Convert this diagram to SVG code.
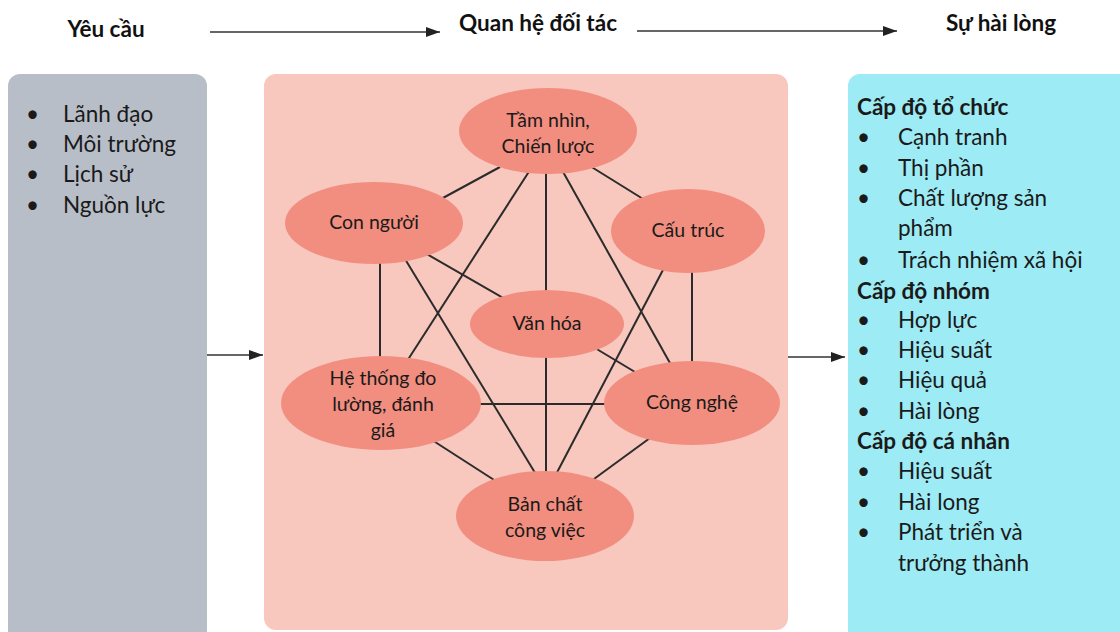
<svg xmlns="http://www.w3.org/2000/svg" width="1120" height="632" viewBox="0 0 1120 632">
  <defs>
    <marker id="arrow" viewBox="0 0 14 10" refX="14" refY="5" markerWidth="15" markerHeight="10" markerUnits="userSpaceOnUse" orient="auto">
      <path d="M0,0 L14,5 L0,10 z" fill="#222"/>
    </marker>
    <style>
      .hdr { font-family: Lato, "Noto Sans", sans-serif; font-weight: bold; font-size: 22.5px; fill: #111; }
      .flow { stroke: #333; stroke-width: 1.6; fill: none; marker-end: url(#arrow); }
      .panel-left { fill: #b8bec7; }
      .panel-mid { fill: #f8c8bf; }
      .panel-right { fill: #9debf4; }
      .node { fill: #f28e7f; }
      .ntext { font-family: Lato, "Noto Sans", sans-serif; font-size: 19.5px; fill: #1a1a1a; text-anchor: middle; }
      .edge { stroke: #2b2b2b; stroke-width: 2; }
      .list { font-family: Lato, "Noto Sans", sans-serif; font-size: 22.5px; fill: #1a1a1a; }
      .lhead { font-weight: bold; }
    </style>
  </defs>

  <rect width="1120" height="632" fill="#ffffff"/>

  <!-- stage headers -->
  <g id="headers">
    <text class="hdr" x="106" y="37" text-anchor="middle">Yêu cầu</text>
    <text class="hdr" x="538" y="31" text-anchor="middle">Quan hệ đối tác</text>
    <text class="hdr" x="1001" y="31" text-anchor="middle">Sự hài lòng</text>
  </g>

  <!-- flow arrows between stages -->
  <g id="flow-arrows">
    <line class="flow" x1="210" y1="32" x2="440" y2="32"/>
    <line class="flow" x1="637" y1="31" x2="897" y2="31"/>
    <line class="flow" x1="207" y1="355" x2="263" y2="355"/>
    <line class="flow" x1="787" y1="357" x2="845" y2="357"/>
  </g>

  <!-- requirements panel -->
  <g id="requirements">
    <rect class="panel-left" x="8" y="74" width="199" height="580" rx="12"/>
    <g class="list">
      <text x="26" y="122">•</text><text x="63" y="122">Lãnh đạo</text>
      <text x="26" y="152">•</text><text x="63" y="152">Môi trường</text>
      <text x="26" y="182">•</text><text x="63" y="182">Lịch sử</text>
      <text x="26" y="213">•</text><text x="63" y="213">Nguồn lực</text>
    </g>
  </g>

  <!-- partnership panel -->
  <g id="partnership">
    <rect class="panel-mid" x="264" y="74" width="524" height="556" rx="12"/>
  </g>

  <!-- links between partnership factors -->
  <g id="connectors">
    <line class="edge" x1="500" y1="167" x2="430" y2="205"/>
    <line class="edge" x1="590" y1="166" x2="656" y2="207"/>
    <line class="edge" x1="530" y1="170" x2="400" y2="372"/>
    <line class="edge" x1="546" y1="170" x2="546" y2="300"/>
    <line class="edge" x1="562" y1="170" x2="675" y2="372"/>
    <line class="edge" x1="380" y1="255" x2="380" y2="365"/>
    <line class="edge" x1="425" y1="253" x2="510" y2="302"/>
    <line class="edge" x1="405" y1="259" x2="540" y2="481"/>
    <line class="edge" x1="664" y1="268" x2="552" y2="482"/>
    <line class="edge" x1="692" y1="266" x2="692" y2="370"/>
    <line class="edge" x1="590" y1="345" x2="645" y2="378"/>
    <line class="edge" x1="546" y1="350" x2="546" y2="480"/>
    <line class="edge" x1="475" y1="404" x2="610" y2="404"/>
    <line class="edge" x1="432" y1="440" x2="505" y2="487"/>
    <line class="edge" x1="650" y1="438" x2="583" y2="487"/>
  </g>

  <g id="n-vision">
    <ellipse class="node" cx="548" cy="131" rx="89" ry="43"/>
    <text class="ntext" x="548" y="127">Tầm nhìn,</text>
    <text class="ntext" x="548" y="153">Chiến lược</text>
  </g>
  <g id="n-people">
    <ellipse class="node" cx="374" cy="223" rx="89" ry="41"/>
    <text class="ntext" x="374" y="229">Con người</text>
  </g>
  <g id="n-structure">
    <ellipse class="node" cx="688" cy="231" rx="77" ry="42"/>
    <text class="ntext" x="688" y="237">Cấu trúc</text>
  </g>
  <g id="n-culture">
    <ellipse class="node" cx="547" cy="324" rx="77" ry="34"/>
    <text class="ntext" x="547" y="330">Văn hóa</text>
  </g>
  <g id="n-measure">
    <ellipse class="node" cx="381" cy="403" rx="100" ry="47"/>
    <text class="ntext" x="383" y="385">Hệ thống đo</text>
    <text class="ntext" x="383" y="411">lường, đánh</text>
    <text class="ntext" x="383" y="437">giá</text>
  </g>
  <g id="n-technology">
    <ellipse class="node" cx="692" cy="403" rx="88" ry="42"/>
    <text class="ntext" x="692" y="409">Công nghệ</text>
  </g>
  <g id="n-work">
    <ellipse class="node" cx="545" cy="516" rx="89" ry="45"/>
    <text class="ntext" x="545" y="511">Bản chất</text>
    <text class="ntext" x="545" y="537">công việc</text>
  </g>

  <!-- satisfaction panel -->
  <g id="satisfaction">
    <rect class="panel-right" x="848" y="74" width="290" height="580" rx="12"/>
    <g class="list">
      <text class="lhead" x="857" y="115">Cấp độ tổ chức</text>
      <text x="857" y="145">•</text><text x="898" y="145">Cạnh tranh</text>
      <text x="857" y="176">•</text><text x="898" y="176">Thị phần</text>
      <text x="857" y="206">•</text><text x="898" y="206">Chất lượng sản</text>
      <text x="898" y="236">phẩm</text>
      <text x="857" y="268">•</text><text x="898" y="268">Trách nhiệm xã hội</text>
      <text class="lhead" x="857" y="299">Cấp độ nhóm</text>
      <text x="857" y="328">•</text><text x="898" y="328">Hợp lực</text>
      <text x="857" y="358">•</text><text x="898" y="358">Hiệu suất</text>
      <text x="857" y="388">•</text><text x="898" y="388">Hiệu quả</text>
      <text x="857" y="419">•</text><text x="898" y="419">Hài lòng</text>
      <text class="lhead" x="857" y="449">Cấp độ cá nhân</text>
      <text x="857" y="479">•</text><text x="898" y="479">Hiệu suất</text>
      <text x="857" y="510">•</text><text x="898" y="510">Hài long</text>
      <text x="857" y="540">•</text><text x="898" y="540">Phát triển và</text>
      <text x="898" y="571">trưởng thành</text>
    </g>
  </g>
</svg>
